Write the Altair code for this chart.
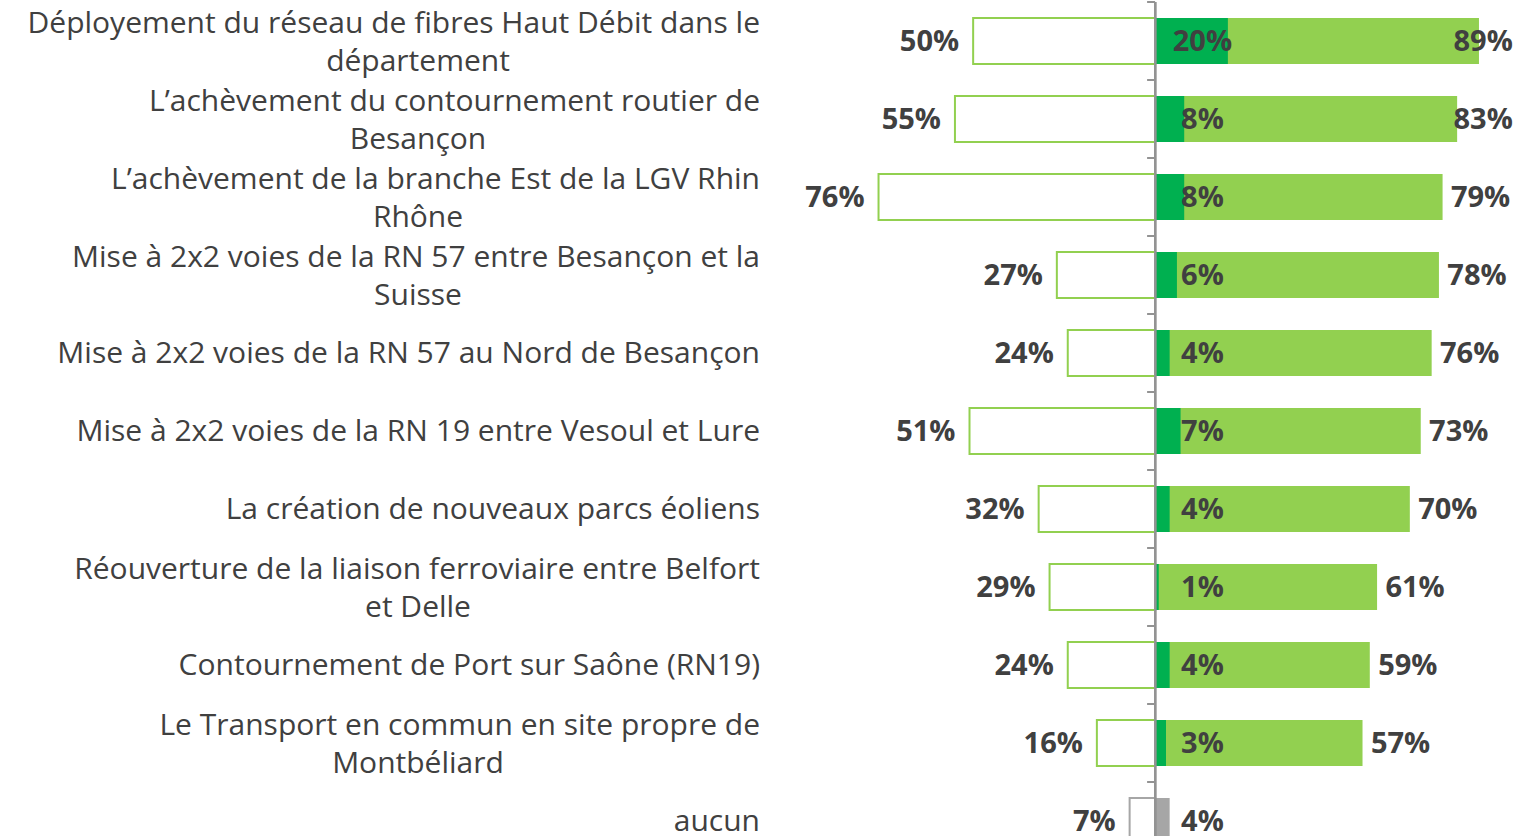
import altair as alt
import pandas as pd

line1 = [
    "Déployement du réseau de fibres Haut Débit dans le",
    "L’achèvement du contournement routier de",
    "L’achèvement de la branche Est de la LGV Rhin",
    "Mise à 2x2 voies de la RN 57 entre Besançon et la",
    "Mise à 2x2 voies de la RN 57 au Nord de Besançon",
    "Mise à 2x2 voies de la RN 19 entre Vesoul et Lure",
    "La création de nouveaux parcs éoliens",
    "Réouverture de la liaison ferroviaire entre Belfort",
    "Contournement de Port sur Saône (RN19)",
    "Le Transport en commun en site propre de",
    "aucun",
]
line2 = ["département", "Besançon", "Rhône", "Suisse", "", "", "", "et Delle", "", "Montbéliard", ""]
left_vals = [50, 55, 76, 27, 24, 51, 32, 29, 24, 16, 7]
inner_vals = [20, 8, 8, 6, 4, 7, 4, 1, 4, 3, 4]
total_vals = [89, 83, 79, 78, 76, 73, 70, 61, 59, 57, None]

cats = [(a + " " + b).strip() for a, b in zip(line1, line2)]
df = pd.DataFrame({
    "cat": cats,
    "line1": line1,
    "line2": line2,
    "left": left_vals,
    "inner": inner_vals,
    "total": total_vals,
    "grp": ["g"] * 10 + ["a"],
})

FONT = "Open Sans"
TXT = "#404040"
LBL_SIZE = 30
VAL_SIZE = 29
xs = alt.Scale(domain=[-105, 100], nice=False, zero=False)
ys = alt.Scale(range=[2, 860], paddingInner=0.41, paddingOuter=0.205)
Y = alt.Y("cat:N", sort=cats, scale=ys, axis=None)
grp_scale_stroke = alt.Scale(domain=["g", "a"], range=["#92D050", "#A6A6A6"])
grp_scale_fill = alt.Scale(domain=["g", "a"], range=["#00B050", "#A6A6A6"])

base = alt.Chart(df).transform_calculate(
    neg="-datum.left",
    zero="0",
    ipos="13",
    t1="-2.2",
    leftlab="datum.left + '%'",
    innerlab="datum.inner + '%'",
)

left_bars = base.mark_bar(fill="white", strokeWidth=2).encode(
    x=alt.X("neg:Q", scale=xs, axis=None),
    x2="zero:Q",
    y=Y,
    stroke=alt.Stroke("grp:N", scale=grp_scale_stroke, legend=None),
)

light_bars = base.transform_filter("datum.total != null").mark_bar(color="#92D050").encode(
    x=alt.X("zero:Q", scale=xs, axis=None),
    x2="total:Q",
    y=Y,
)

inner_bars = base.mark_bar().encode(
    x=alt.X("zero:Q", scale=xs, axis=None),
    x2="inner:Q",
    y=Y,
    fill=alt.Fill("grp:N", scale=grp_scale_fill, legend=None),
)

center_line = base.mark_rule(color="#939393", strokeWidth=2).encode(
    x=alt.X("zero:Q", scale=xs, axis=None),
    y=alt.value(2),
    y2=alt.value(836),
)

ticks = base.mark_rule(color="#939393", strokeWidth=2, yOffset=-39).encode(
    x=alt.X("t1:Q", scale=xs, axis=None),
    x2="zero:Q",
    y=Y,
)

left_text = base.mark_text(align="right", dx=-14, dy=1, font=FONT, fontWeight="bold", fontSize=VAL_SIZE, color=TXT).encode(
    x=alt.X("neg:Q", scale=xs, axis=None),
    y=Y,
    text="leftlab:N",
)

inner_text = base.mark_text(align="center", dy=1, font=FONT, fontWeight="bold", fontSize=VAL_SIZE, color=TXT).encode(
    x=alt.X("ipos:Q", scale=xs, axis=None),
    y=Y,
    text="innerlab:N",
)

end_text = base.transform_filter("datum.total != null").transform_calculate(
    endpos="min(datum.total + 2.3, 82.0)",
    endlab="datum.total + '%'",
).mark_text(align="left", dy=1, font=FONT, fontWeight="bold", fontSize=VAL_SIZE, color=TXT).encode(
    x=alt.X("endpos:Q", scale=xs, axis=None),
    y=Y,
    text="endlab:N",
)

cat_single = base.transform_filter("datum.line2 == ''").mark_text(
    align="right", font=FONT, fontSize=LBL_SIZE, color=TXT, dy=1
).encode(x=alt.value(-13), y=Y, text="line1:N")

cat_first = base.transform_filter("datum.line2 != ''").mark_text(
    align="right", font=FONT, fontSize=LBL_SIZE, color=TXT, dy=-17
).encode(x=alt.value(-13), y=Y, text="line1:N")

cat_second = base.transform_filter("datum.line2 != ''").mark_text(
    align="center", font=FONT, fontSize=LBL_SIZE, color=TXT, dy=21
).encode(x=alt.value(-355), y=Y, text="line2:N")

chart = alt.layer(
    left_bars, light_bars, inner_bars, center_line, ticks,
    left_text, inner_text, end_text, cat_single, cat_first, cat_second,
).properties(
    width=746,
    height=836,
    padding={"left": 773, "top": 0, "right": 2, "bottom": 0},
    autosize=alt.AutoSizeParams(type="none"),
    background="white",
).configure_view(stroke=None)

chart.save("out.html", embed_options={"renderer": "svg", "actions": False})
